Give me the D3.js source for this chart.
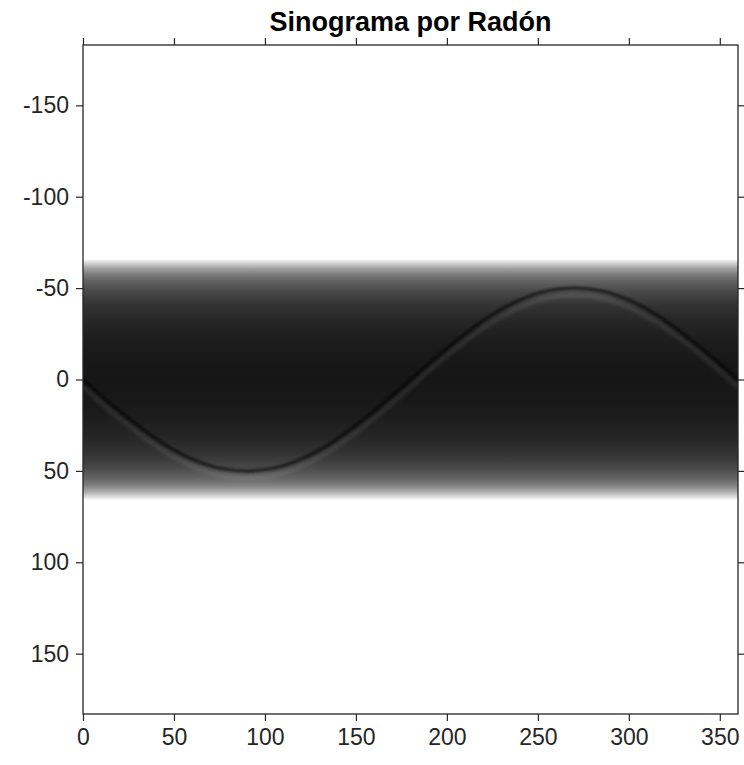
<!DOCTYPE html>
<html>
<head>
<meta charset="utf-8">
<script src="https://cdn.jsdelivr.net/npm/d3@7"></script>
<style>
body { margin: 0; background: #fff; }
text { font-family: "Liberation Sans", Arial, sans-serif; }
</style>
</head>
<body>
<svg id="chart" width="744" height="765"></svg>
<script>
//projection angle (degrees) and offset of the bright point
var curveTheta = [0, 15, 30, 45, 60, 75, 90, 105, 120, 135, 150, 165, 180,
    195, 210, 225, 240, 255, 270, 285, 300, 315, 330, 345, 360];
var curveOffset = [0, 13, 25, 35.5, 43.5, 48.5, 50, 48.5, 43.5, 35.5, 25, 13, 0,
    -13, -25, -35.5, -43.5, -48.5, -50, -48.5, -43.5, -35.5, -25, -13, 0];

//band profile: distance from centre and grey level (0 = black)
var bandDistance = [0, 5, 10, 15, 20, 25, 30, 35, 40, 44, 48, 52, 55, 58, 61, 63, 65, 66];
var bandGrey = [22, 23, 24, 26, 28, 32, 36, 43, 50, 60, 72, 90, 105, 130, 165, 200, 235, 255];

//tick labels
var xTicks = [0, 50, 100, 150, 200, 250, 300, 350];
var yTicks = [-150, -100, -50, 0, 50, 100, 150];

var svg = d3.select("#chart");

var plotLeft = 83, plotRight = 738, plotTop = 45, plotBottom = 714;

var x = d3.scaleLinear().domain([0, 360]).range([plotLeft, plotRight]);
var y = d3.scaleLinear().domain([-183, 183]).range([plotTop, plotBottom]);

var defs = svg.append("defs");

//clip to plot area
defs.append("clipPath").attr("id", "plot")
    .append("rect")
    .attr("x", plotLeft).attr("y", plotTop)
    .attr("width", plotRight - plotLeft).attr("height", plotBottom - plotTop);

//vertical gradient for the band
var edge = bandDistance[bandDistance.length - 1];
var grad = defs.append("linearGradient")
    .attr("id", "band")
    .attr("gradientUnits", "userSpaceOnUse")
    .attr("x1", 0).attr("x2", 0)
    .attr("y1", y(-edge)).attr("y2", y(edge));

var stops = [];
for (var i = bandDistance.length - 1; i >= 0; i--) {
    stops.push({s: -bandDistance[i], g: bandGrey[i]});
}
for (var j = 1; j < bandDistance.length; j++) {
    stops.push({s: bandDistance[j], g: bandGrey[j]});
}
grad.selectAll("stop")
    .data(stops)
    .enter().append("stop")
    .attr("offset", function(d) { return (y(d.s) - y(-edge)) / (y(edge) - y(-edge)); })
    .attr("stop-color", function(d) { return d3.rgb(d.g, d.g, d.g); });

//soft blur for the trace
defs.append("filter").attr("id", "soft")
    .attr("x", "-5%").attr("y", "-20%").attr("width", "110%").attr("height", "140%")
    .append("feGaussianBlur").attr("stdDeviation", 0.9);
defs.append("filter").attr("id", "softer")
    .attr("x", "-5%").attr("y", "-20%").attr("width", "110%").attr("height", "140%")
    .append("feGaussianBlur").attr("stdDeviation", 1.6);

var plot = svg.append("g").attr("clip-path", "url(#plot)");

plot.append("rect")
    .attr("x", x(0)).attr("y", y(-edge))
    .attr("width", x(360) - x(0))
    .attr("height", y(edge) - y(-edge))
    .attr("fill", "url(#band)");

var points = curveTheta.map(function(t, k) { return {t: t, s: curveOffset[k]}; });

//lighter trail just beside the trace
var trail = d3.line()
    .x(function(d) { return x(d.t); })
    .y(function(d) { return y(d.s + 4); })
    .curve(d3.curveCatmullRom);

plot.append("path")
    .attr("d", trail(points))
    .attr("fill", "none")
    .attr("stroke", "#fff")
    .attr("stroke-opacity", 0.08)
    .attr("stroke-width", 5)
    .attr("filter", "url(#softer)");

//dark sinusoid trace
var line = d3.line()
    .x(function(d) { return x(d.t); })
    .y(function(d) { return y(d.s); })
    .curve(d3.curveCatmullRom);

plot.append("path")
    .attr("d", line(points))
    .attr("fill", "none")
    .attr("stroke", "#000")
    .attr("stroke-opacity", 0.55)
    .attr("stroke-width", 3.5)
    .attr("filter", "url(#soft)");

//axes
var tickColor = "#262626";

function styleAxis(g) {
    g.select(".domain").remove();
    g.selectAll(".tick line").attr("stroke", tickColor).attr("stroke-width", 1.2);
    g.selectAll(".tick text")
        .attr("fill", tickColor)
        .style("font-size", "23px");
}

//plain hyphen for negatives, like the original
var plain = function(d) { return String(d); };

svg.append("g")
    .attr("transform", "translate(0," + plotBottom + ")")
    .call(d3.axisBottom(x).tickValues(xTicks).tickFormat(plain).tickSize(7).tickPadding(8))
    .call(styleAxis);

svg.append("g")
    .attr("transform", "translate(0," + plotTop + ")")
    .call(d3.axisTop(x).tickValues(xTicks).tickSize(7).tickFormat(""))
    .call(styleAxis);

svg.append("g")
    .attr("transform", "translate(" + plotLeft + ",0)")
    .call(d3.axisLeft(y).tickValues(yTicks).tickFormat(plain).tickSize(7).tickPadding(7))
    .call(styleAxis);

svg.append("g")
    .attr("transform", "translate(" + plotRight + ",0)")
    .call(d3.axisRight(y).tickValues(yTicks).tickSize(7).tickFormat(""))
    .call(styleAxis);

//box
svg.append("rect")
    .attr("x", plotLeft).attr("y", plotTop)
    .attr("width", plotRight - plotLeft).attr("height", plotBottom - plotTop)
    .attr("fill", "none")
    .attr("stroke", tickColor)
    .attr("stroke-width", 1.3);

//title
svg.append("text")
    .attr("x", (plotLeft + plotRight) / 2)
    .attr("y", 31)
    .attr("text-anchor", "middle")
    .style("font-size", "27px")
    .style("font-weight", "bold")
    .attr("fill", "#000")
    .text("Sinograma por Radón");
</script>
</body>
</html>
